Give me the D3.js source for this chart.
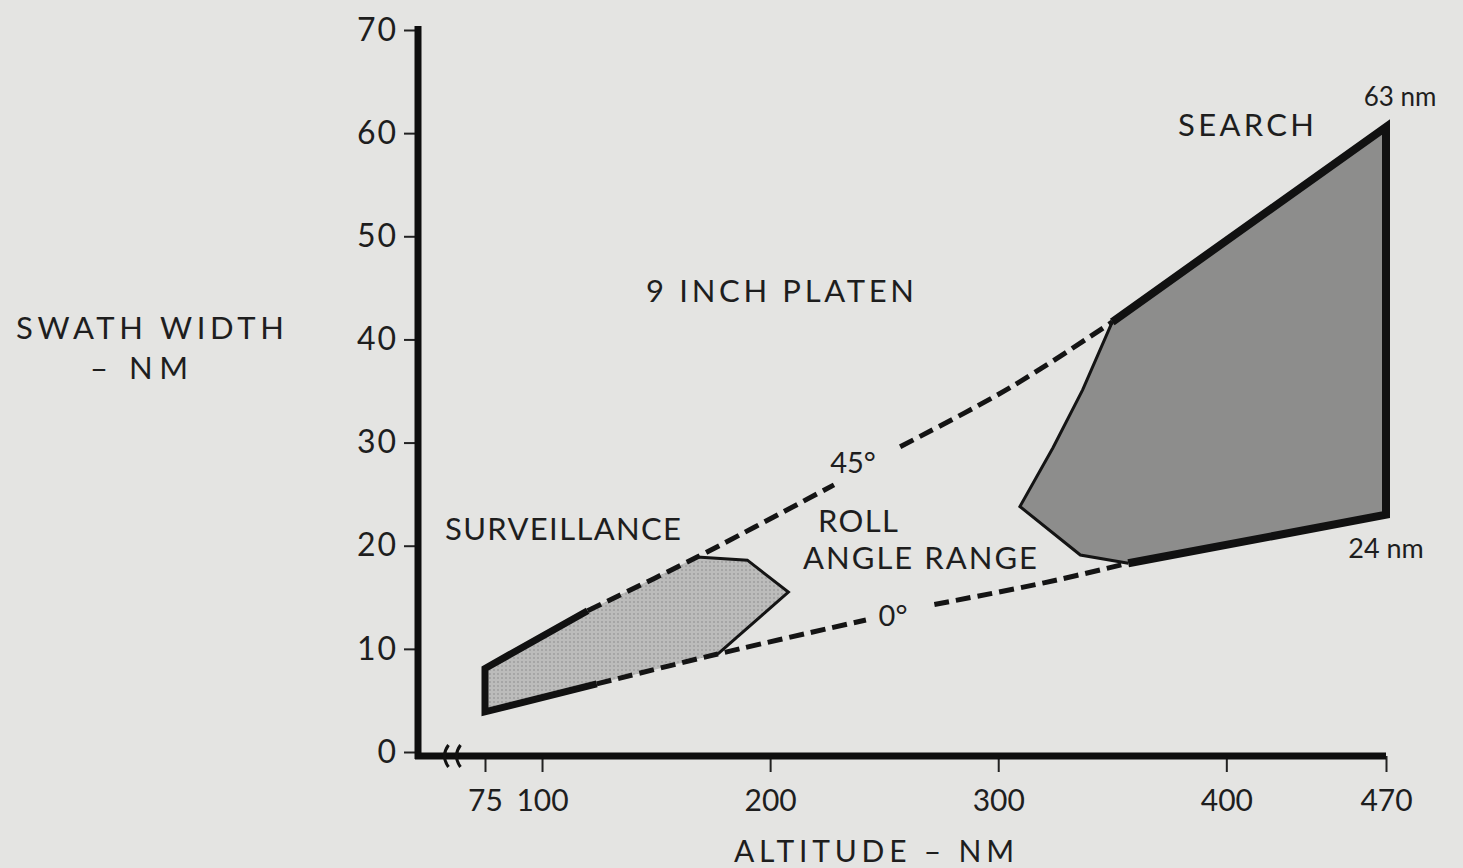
<!DOCTYPE html>
<html>
<head>
<meta charset="utf-8">
<script src="https://cdn.jsdelivr.net/npm/d3@7/dist/d3.min.js"></script>
<style>
  html, body { margin: 0; padding: 0; background: #e3e3e1; }
  svg text { font-family: Lato, "Open Sans", sans-serif; fill: #1e1e1e; }
</style>
</head>
<body>
<div id="chart"></div>
<script>
// axis ticks
const yTicks = [0, 10, 20, 30, 40, 50, 60, 70];
const xTicks = [75, 100, 200, 300, 400, 470];

// surveillance envelope (altitude nm, swath nm)
const survArea = [[75, 8.1], [120, 13.7], [168, 18.9], [190, 18.6], [208, 15.5], [177, 9.5], [124, 6.6], [75, 3.9]];
const survThick = [[120, 13.7], [75, 8.1], [75, 3.9], [124, 6.6]];
const survThin = [[168, 18.9], [190, 18.6], [208, 15.5], [177, 9.5]];

// search envelope
const searchArea = [[350, 41.7], [337, 35.1], [324, 29.5], [309.5, 23.8], [336, 19.1], [357, 18.3], [470, 23], [470, 60.6]];
const searchThick = [[350, 41.7], [470, 60.6], [470, 23], [357, 18.3]];
const searchThin = [[350, 41.7], [337, 35.1], [324, 29.5], [309.5, 23.8], [336, 19.1], [357, 18.3]];

// roll angle limits (dashed), split where the label sits
const roll45 = [[[120, 13.7], [168, 18.9], [228, 25.9]], [[257, 29.6], [305, 35.3], [350, 41.7]]];
const roll0 = [[[124, 6.6], [177, 9.5], [242, 12.8]], [[272, 14.3], [320, 16.4], [357, 18.3]]];

const width = 1463, height = 868;
const axisLeftX = 418;

const svg = d3.select('#chart')
  .append('svg')
  .attr('width', width)
  .attr('height', height);

svg.append('rect').attr('width', width).attr('height', height).attr('fill', '#e4e4e2');

const defs = svg.append('defs');
const pat = defs.append('pattern')
  .attr('id', 'dots')
  .attr('width', 4).attr('height', 4)
  .attr('patternUnits', 'userSpaceOnUse');
pat.append('rect').attr('width', 4).attr('height', 4).attr('fill', '#bcbcbb');
pat.append('circle').attr('cx', 2).attr('cy', 2).attr('r', 0.9).attr('fill', '#9c9c9c');

const x = d3.scaleLinear().domain([75, 470]).range([485, 1386]);
const y = d3.scaleLinear().domain([0, 70]).range([752, 30]);

const line = d3.line().x(d => x(d[0])).y(d => y(d[1]));
const curve = d3.line().x(d => x(d[0])).y(d => y(d[1])).curve(d3.curveCatmullRom);

// shaded envelopes
svg.append('path')
  .attr('d', line(survArea) + 'Z')
  .attr('fill', 'url(#dots)');
svg.append('path')
  .attr('d', line(searchArea) + 'Z')
  .attr('fill', '#8d8d8c');

// dashed roll angle lines
[...roll45, ...roll0].forEach(seg => {
  svg.append('path')
    .attr('d', curve(seg))
    .attr('fill', 'none')
    .attr('stroke', '#141414')
    .attr('stroke-width', 5)
    .attr('stroke-dasharray', '15,7');
});

// outlines
[survThin, searchThin].forEach(seg => {
  svg.append('path')
    .attr('d', line(seg))
    .attr('fill', 'none')
    .attr('stroke', '#141414')
    .attr('stroke-width', 3);
});
svg.append('path')
  .attr('d', line(survThick))
  .attr('fill', 'none')
  .attr('stroke', '#111')
  .attr('stroke-width', 7);
svg.append('path')
  .attr('d', line(searchThick))
  .attr('fill', 'none')
  .attr('stroke', '#111')
  .attr('stroke-width', 8);

// y axis
const gy = svg.append('g')
  .attr('transform', `translate(${axisLeftX},0)`)
  .call(d3.axisLeft(y).tickValues(yTicks).tickSize(14).tickSizeOuter(0).tickPadding(6));
gy.select('.domain').remove();
gy.selectAll('.tick line').attr('stroke', '#222').attr('stroke-width', 2);
gy.selectAll('.tick text')
  .style('font-size', '32px')
  .style('letter-spacing', '2px')
  .attr('fill', '#1e1e1e');
svg.append('line')
  .attr('x1', axisLeftX).attr('x2', axisLeftX)
  .attr('y1', y(70) - 4).attr('y2', y(0) + 7)
  .attr('stroke', '#0e0e0e').attr('stroke-width', 7);

// x axis (broken between the y axis and 75)
const axisY = y(0) + 4;
const gx = svg.append('g')
  .attr('transform', `translate(0,${axisY})`)
  .call(d3.axisBottom(x).tickValues(xTicks).tickSize(16).tickSizeOuter(0).tickPadding(18));
gx.select('.domain').remove();
gx.selectAll('.tick line').attr('stroke', '#222').attr('stroke-width', 2);
gx.selectAll('.tick text')
  .style('font-size', '30px')
  .attr('fill', '#1e1e1e');
svg.append('line')
  .attr('x1', axisLeftX - 3).attr('x2', x(470))
  .attr('y1', axisY).attr('y2', axisY)
  .attr('stroke', '#0e0e0e').attr('stroke-width', 7);

// break marks
const bx = (axisLeftX + x(75)) / 2 - 6;
[0, 12].forEach(off => {
  svg.append('path')
    .attr('d', `M${bx + off + 3},${axisY - 11} q-8,11 0,22`)
    .attr('fill', 'none')
    .attr('stroke', '#111')
    .attr('stroke-width', 3);
});

// labels; w = drawn width of the text in the reference
const label = (txt, px, py, size, w) => {
  const t = svg.append('text')
    .attr('x', px).attr('y', py)
    .attr('text-anchor', 'middle')
    .attr('dominant-baseline', 'central')
    .style('font-size', size + 'px')
    .text(txt);
  if (w) t.attr('textLength', w).attr('lengthAdjust', 'spacing');
  return t;
};

label('SWATH WIDTH', 150, 327, 31, 268);
label('\u2013 NM', 139, 367, 31, 98);
label('ALTITUDE \u2013 NM', 874, 850, 30, 280);
label('9 INCH PLATEN', 780, 290, 31, 268);
label('SURVEILLANCE', 563, 528, 31, 236);
label('ROLL', 858, 520, 31, 80);
label('ANGLE RANGE', 920, 557, 31, 234);
label('SEARCH', 1246, 124, 31, 136);
label('45\u00b0', 853, 461, 29);
label('0\u00b0', 893, 614, 29);
label('63 nm', 1400, 96, 26);
label('24 nm', 1386, 547, 27);
</script>
</body>
</html>
